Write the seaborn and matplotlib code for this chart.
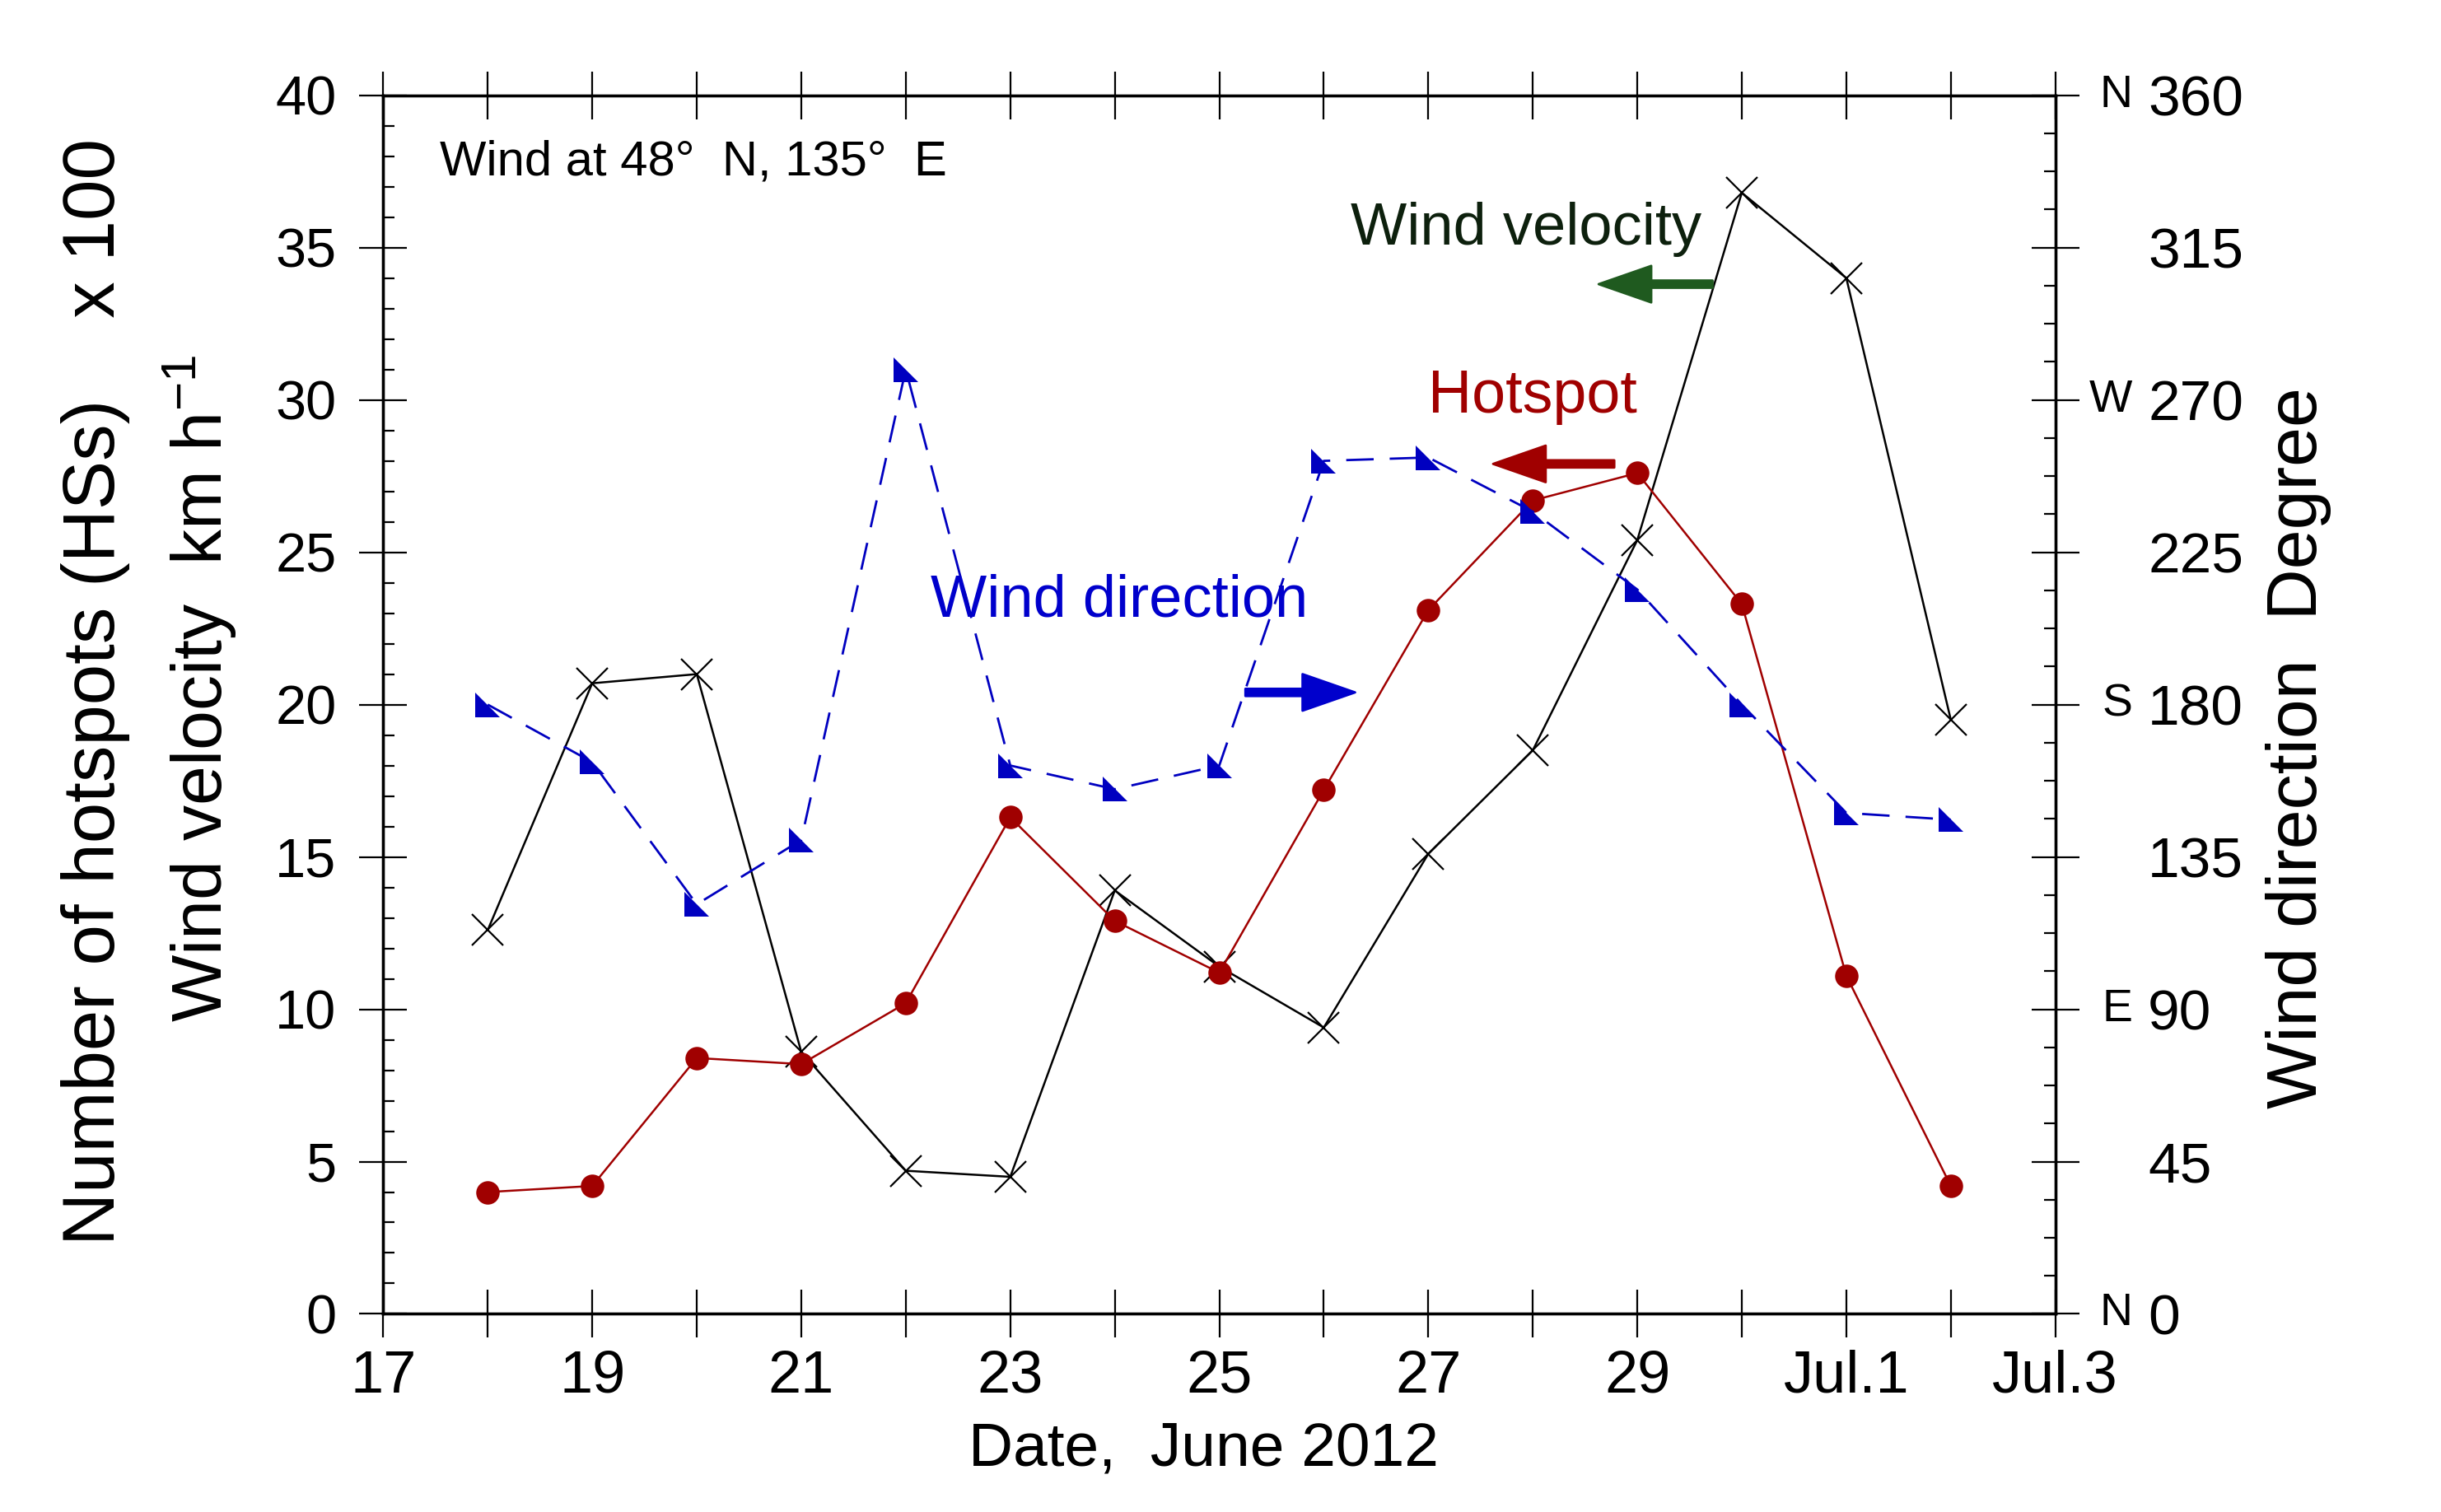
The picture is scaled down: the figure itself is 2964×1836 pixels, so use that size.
import matplotlib
matplotlib.use("Agg")
import matplotlib.pyplot as plt
from matplotlib.path import Path
from matplotlib.ticker import MultipleLocator, FixedLocator, FixedFormatter
import seaborn as sns
import pandas as pd

# data (June 18 .. July 2, 2012; Jul.1 = 31)
days = [18, 19, 20, 21, 22, 23, 24, 25, 26, 27, 28, 29, 30, 31, 32]
wind_velocity = [12.6, 20.7, 21.0, 8.6, 4.7, 4.5, 13.9, 11.4, 9.4, 15.1, 18.5, 25.4, 36.8, 34.0, 19.5]
hotspots = [4.0, 4.2, 8.4, 8.2, 10.2, 16.3, 12.9, 11.2, 17.2, 23.1, 26.7, 27.6, 23.3, 11.1, 4.2]
wind_direction = [180, 163, 121, 140, 279, 162, 155, 162, 252, 253, 237, 214, 180, 148, 146]

x_tick_pos = list(range(17, 34))
x_tick_txt = ["17", "", "19", "", "21", "", "23", "", "25", "", "27", "", "29", "", "Jul.1", "", "Jul.3"]
dir_ticks = [0, 45, 90, 135, 180, 225, 270, 315, 360]
dir_letters = {0: "N", 90: "E", 180: "S", 270: "W", 360: "N"}

df = pd.DataFrame({"day": days, "velocity": wind_velocity,
                   "hotspot": hotspots, "direction": wind_direction})

sns.set_style("white")
plt.rcParams["font.family"] = ["Liberation Sans", "DejaVu Sans"]
plt.rcParams["mathtext.fontset"] = "custom"
plt.rcParams["mathtext.rm"] = "Liberation Sans"
for key in ["text.color", "axes.labelcolor", "xtick.color", "ytick.color"]:
    plt.rcParams[key] = "black"

RED = "#a00000"
BLUE = "#0000c0"
GREEN = "#1f5a1f"

fig = plt.figure(figsize=(14.82, 9.18), dpi=200)
ax = fig.add_axes([0.157, 0.131, 0.685, 0.806])
ax2 = ax.twinx()

# right-angle triangle marker (like the original plotting program)
tri = Path([(-1, 1), (-1, -1), (1, -1), (-1, 1)],
           [Path.MOVETO, Path.LINETO, Path.LINETO, Path.CLOSEPOLY])

sns.lineplot(data=df, x="day", y="velocity", ax=ax, color="black", lw=0.9,
             marker="x", markersize=14, markeredgewidth=0.8, markeredgecolor="black")
sns.lineplot(data=df, x="day", y="hotspot", ax=ax, color=RED, lw=0.9,
             marker="o", markersize=9.5, markeredgecolor=RED, markerfacecolor=RED)
sns.lineplot(data=df, x="day", y="direction", ax=ax2, color=BLUE, lw=1.0,
             linestyle=(0, (12, 7)), marker=tri, markersize=10.5,
             markeredgecolor=BLUE, markerfacecolor=BLUE, markeredgewidth=0)

ax.set_xlim(17, 33)
ax.set_ylim(0, 40)
ax2.set_ylim(0, 360)

for spine in list(ax.spines.values()) + list(ax2.spines.values()):
    spine.set_linewidth(1.2)
    spine.set_color("black")

ax.xaxis.set_major_locator(FixedLocator(x_tick_pos))
ax.xaxis.set_major_formatter(FixedFormatter(x_tick_txt))
ax.tick_params(axis="x", which="major", direction="inout", length=21, width=0.8,
               top=True, bottom=True, labelsize=26, pad=5, colors="black")
ax.yaxis.set_major_locator(MultipleLocator(5))
ax.yaxis.set_minor_locator(MultipleLocator(1))
ax.tick_params(axis="y", which="major", direction="inout", length=21, width=0.8,
               left=True, right=False, labelsize=24, pad=10, colors="black")
ax.tick_params(axis="y", which="minor", direction="in", length=5, width=0.8,
               left=True, right=False, colors="black")

ax2.yaxis.set_major_locator(FixedLocator(dir_ticks))
ax2.yaxis.set_minor_locator(MultipleLocator(11.25))
ax2.tick_params(axis="y", which="major", direction="inout", length=21, width=0.8,
                right=True, left=False, labelsize=25, pad=30, colors="black")
ax2.tick_params(axis="y", which="minor", direction="in", length=5, width=0.8,
                right=True, left=False, colors="black")
ax2.tick_params(axis="x", which="both", top=False, bottom=False)
for lab in ax2.get_yticklabels():
    lab.set_horizontalalignment("left")
for val, letter in dir_letters.items():
    ax2.text(1.046, val, letter, transform=ax2.get_yaxis_transform(),
             ha="right", va="center", fontsize=20)

ax.set_xlabel("")
ax.set_ylabel("")
ax2.set_ylabel("")

# axis titles
fig.text(0.039, 0.5425, "Number of hotspots (HSs)    x 100", rotation=90,
         ha="center", va="center", fontsize=32)
fig.text(0.082, 0.545, "Wind velocity  km h$\\mathregular{^{-1}}$", rotation=90,
         ha="center", va="center", fontsize=31)
fig.text(0.9417, 0.5054, "Wind direction  Degree", rotation=90,
         ha="center", va="center", fontsize=31)
fig.text(0.493, 0.031, "Date,  June 2012", ha="center", va="baseline", fontsize=27)

# annotations
ax.text(17.54, 37.8, "Wind at 48°  N, 135°  E", ha="left", va="center", fontsize=21.5)
ax.text(26.26, 35.6, "Wind velocity", ha="left", va="center", fontsize=26, color="#0d200d")
ax.text(27.0, 30.1, "Hotspot", ha="left", va="center", fontsize=26.5, color=RED)
ax.text(22.24, 23.4, "Wind direction", ha="left", va="center", fontsize=26, color="#0000cc")

arrow_kw = dict(width=3.2, headwidth=16, headlength=23, shrink=0)
ax.annotate("", xy=(28.63, 33.8), xytext=(29.72, 33.8),
            arrowprops=dict(facecolor=GREEN, edgecolor=GREEN, **arrow_kw))
ax.annotate("", xy=(27.62, 27.9), xytext=(28.78, 27.9),
            arrowprops=dict(facecolor=RED, edgecolor=RED, **arrow_kw))
ax.annotate("", xy=(26.3, 20.4), xytext=(25.25, 20.4),
            arrowprops=dict(facecolor="#0000cc", edgecolor="#0000cc", **arrow_kw))

fig.savefig("out.png", dpi=200)
